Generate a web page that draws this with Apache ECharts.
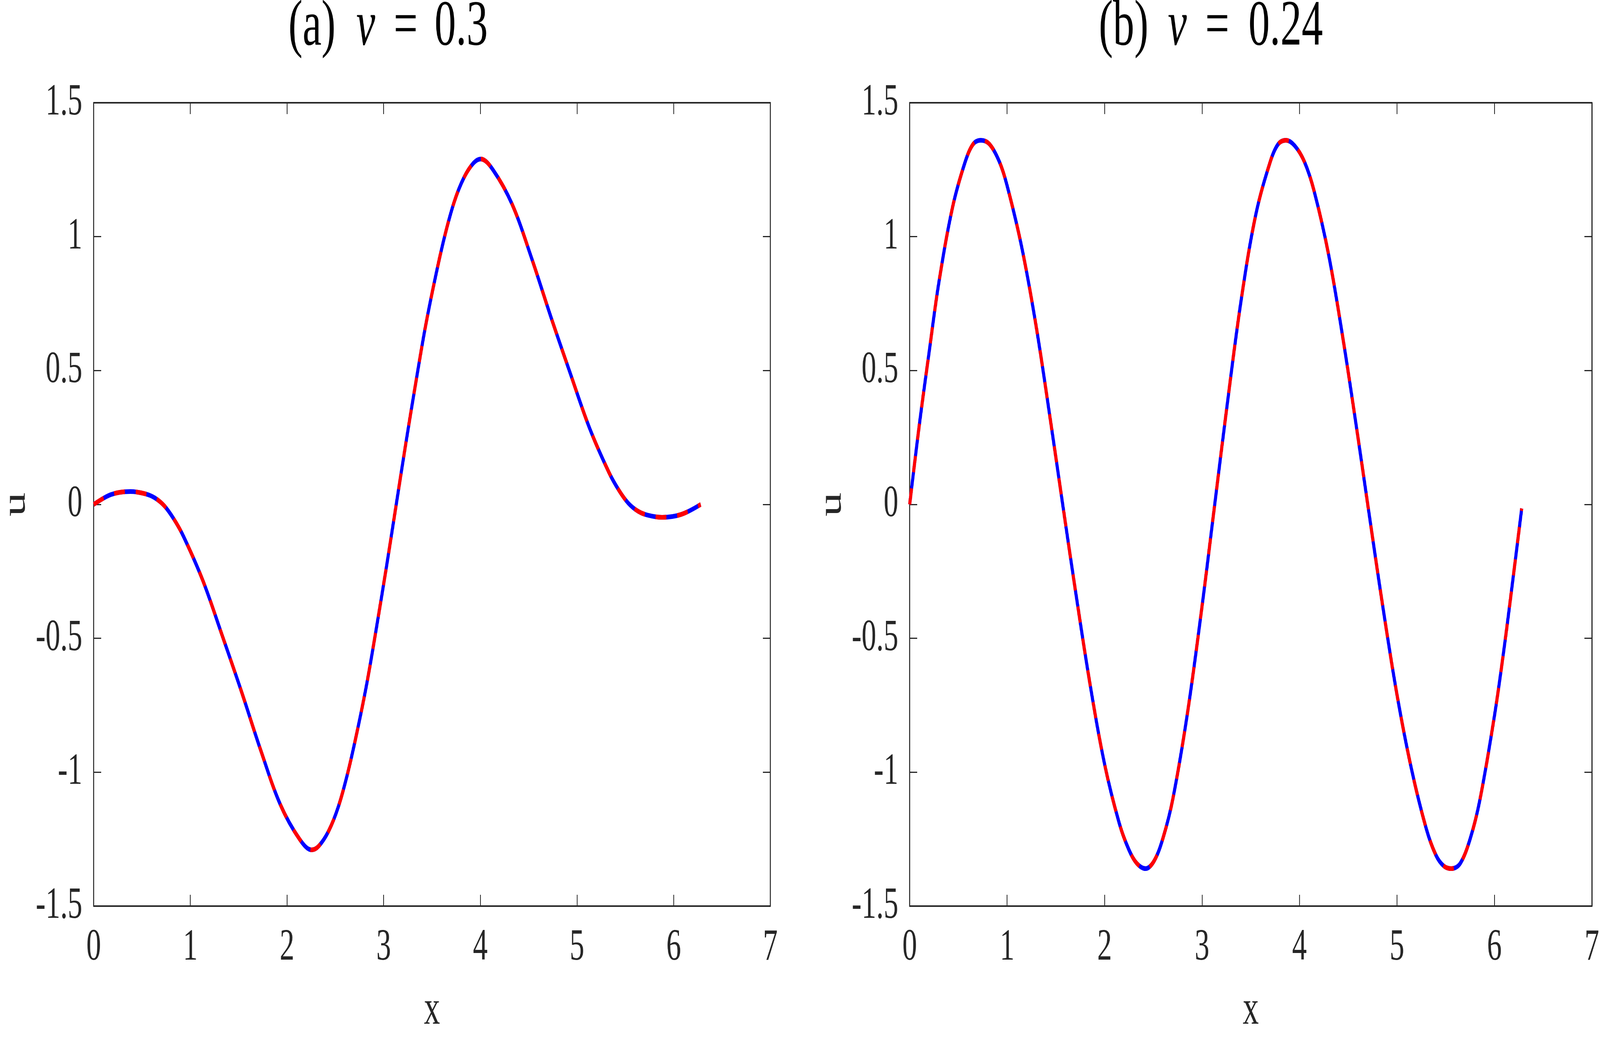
<!DOCTYPE html>
<html><head><meta charset="utf-8">
<script src="https://cdn.jsdelivr.net/npm/echarts@6/dist/echarts.min.js"></script>
<style>html,body{margin:0;padding:0;background:#fff;overflow:hidden}#c{width:6200px;height:2654px;transform-origin:0 0}</style>
</head><body><div id="c"></div>
<script>
// Panel (a): nu = 0.3
const xA = [0,0.18,0.38,0.53,0.63,0.73,0.83,0.93,1.13,1.33,1.53,1.73,1.93,2.13,2.255,2.33,2.43,2.53,2.63,2.73,2.83,2.93,3.03,3.13,3.23,3.33,3.43,3.53,3.63,3.73,3.83,3.93,4.005,4.13,4.33,4.53,4.73,4.93,5.13,5.33,5.43,5.53,5.63,5.73,5.88,6.08,6.28];
const uA = [0,0.037,0.048,0.04,0.025,-0.005,-0.055,-0.12,-0.285,-0.49,-0.70,-0.92,-1.12,-1.25,-1.29,-1.275,-1.22,-1.13,-1.00,-0.84,-0.66,-0.45,-0.23,0,0.23,0.45,0.66,0.84,1.00,1.13,1.22,1.275,1.29,1.25,1.12,0.92,0.70,0.49,0.285,0.12,0.055,0.005,-0.025,-0.04,-0.048,-0.037,0];
// Panel (b): nu = 0.24
const xB = [0,0.1,0.2,0.3,0.44,0.57,0.65,0.73,0.82,0.92,1.0,1.15,1.3,1.45,1.57,1.7,1.85,2.0,2.15,2.25,2.33,2.42,2.51,2.6,2.7,2.85,3.0,3.13,3.25,3.4,3.55,3.7,3.78,3.86,3.95,4.05,4.15,4.3,4.45,4.6,4.7,4.85,5.0,5.15,5.3,5.4,5.48,5.56,5.65,5.75,5.85,6.0,6.1,6.2,6.28];
const uB = [0,0.30,0.57,0.83,1.11,1.28,1.345,1.36,1.345,1.28,1.19,0.96,0.66,0.30,0,-0.32,-0.67,-0.97,-1.19,-1.29,-1.34,-1.36,-1.33,-1.245,-1.10,-0.78,-0.38,0,0.35,0.76,1.08,1.28,1.345,1.36,1.34,1.28,1.17,0.93,0.61,0.25,0,-0.37,-0.71,-0.99,-1.21,-1.31,-1.35,-1.36,-1.34,-1.25,-1.105,-0.79,-0.535,-0.25,-0.015];
// Axis ticks
const xTicks = {min: 0, max: 7, interval: 1};
const yTicks = {min: -1.5, max: 1.5, interval: 0.5};
// Panel titles (tokens: label, greek symbol, equals, value)
const titleA = ['(a)', 'ν', '=', '0.3'];
const titleB = ['(b)', 'ν', '=', '0.24'];

// The chart is drawn at 6200x2654 and fitted into the actual viewport.
const box = document.getElementById('c');
const sx = window.innerWidth / 6200, sy = window.innerHeight / 2654;
if (Math.abs(sx - 1) > 0.001 || Math.abs(sy - 1) > 0.001) {
  box.style.transform = 'scale(' + sx + ',' + sy + ')';
}

const FONT = 'Liberation Serif';
const INK = '#262626';
const chart = echarts.init(box, null, {width: 6200, height: 2654, devicePixelRatio: 1});

function xAxis(grid, pos, show) {
  return {
    type: 'value', gridIndex: grid, position: pos, min: xTicks.min, max: xTicks.max, interval: xTicks.interval,
    name: show ? 'x' : '', nameLocation: 'middle', nameGap: 206,
    nameTextStyle: {fontFamily: FONT, fontSize: 124, color: INK},
    axisLine: {show: true, onZero: false, lineStyle: {color: INK, width: 4}},
    axisTick: {show: true, inside: true, length: 29, lineStyle: {color: INK, width: 3}},
    axisLabel: {show: show, margin: 50, fontFamily: FONT, fontSize: 114, color: INK},
    splitLine: {show: false}
  };
}
function yAxis(grid, pos, show) {
  return {
    type: 'value', gridIndex: grid, position: pos, min: yTicks.min, max: yTicks.max, interval: yTicks.interval,
    name: show ? 'u' : '', nameLocation: 'middle', nameGap: 238, nameRotate: 90,
    nameTextStyle: {fontFamily: FONT, fontSize: 124, color: INK},
    axisLine: {show: true, onZero: false, lineStyle: {color: INK, width: 4}},
    axisTick: {show: true, inside: true, length: 29, lineStyle: {color: INK, width: 3}},
    axisLabel: {show: show, margin: 44, fontFamily: FONT, fontSize: 114, color: INK},
    splitLine: {show: false}
  };
}
function pairs(xs, us) { return xs.map((x, i) => [x, us[i]]); }
function solid(ax, xs, us) {
  return {type: 'line', xAxisIndex: ax, yAxisIndex: ax, data: pairs(xs, us), showSymbol: false, smooth: 0.35,
    lineStyle: {color: '#0000ff', width: 12, cap: 'butt'}, animation: false, z: 2};
}
function dashed(ax, xs, us) {
  return {type: 'line', xAxisIndex: ax, yAxisIndex: ax, data: pairs(xs, us), showSymbol: false, smooth: 0.35,
    lineStyle: {color: '#ff0000', width: 12, type: [42, 42], cap: 'butt'}, animation: false, z: 3};
}
function titles(tokens, xs) {
  return tokens.map((t, i) => ({
    text: t, left: xs[i], top: 71, textAlign: 'center', textVerticalAlign: 'middle', padding: 0,
    textStyle: {fontFamily: FONT, fontSize: 165, fontWeight: 'normal', fontStyle: i === 1 ? 'italic' : 'normal', color: '#000'}
  }));
}

chart.setOption({
  backgroundColor: '#fff',
  animation: false,
  title: titles(titleA, [1209, 1417, 1572, 1787]).concat(titles(titleB, [4354, 4562, 4717, 4982])),
  grid: [
    {left: 330, top: 263, width: 2655, height: 2084},
    {left: 3525, top: 263, width: 2653, height: 2084}
  ],
  xAxis: [xAxis(0, 'bottom', true), xAxis(1, 'bottom', true), xAxis(0, 'top', false), xAxis(1, 'top', false)],
  yAxis: [yAxis(0, 'left', true), yAxis(1, 'left', true), yAxis(0, 'right', false), yAxis(1, 'right', false)],
  series: [solid(0, xA, uA), dashed(0, xA, uA), solid(1, xB, uB), dashed(1, xB, uB)]
});
</script></body></html>
